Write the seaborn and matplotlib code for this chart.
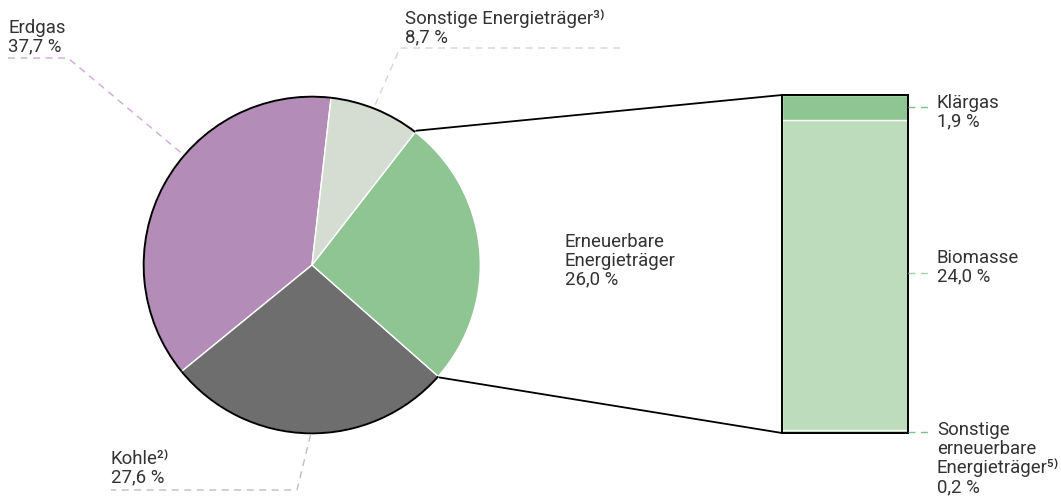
import numpy as np
import matplotlib
matplotlib.use('Agg')
import matplotlib.pyplot as plt
from matplotlib.patches import Arc
import seaborn as sns

# Anteile am Energieeinsatz (%)
pie_labels = ["Erdgas", "Kohle²⁾", "Erneuerbare\nEnergieträger", "Sonstige Energieträger³⁾"]
pie_values = [37.7, 27.6, 26.0, 8.7]
pie_colors = ["#b48cb8", "#6e6e6e", "#8fc493", "#d5ddd2"]

# Aufteilung der erneuerbaren Energieträger (von unten nach oben)
bar_labels = ["Sonstige\nerneuerbare\nEnergieträger⁵⁾", "Biomasse", "Klärgas"]
bar_values = [0.2, 24.0, 1.9]
bar_colors = ["#8fc493", "#bddcbc", "#8fc493"]

sns.set_theme(style="white")
plt.rcParams['font.family'] = ['Roboto', 'DejaVu Sans']
plt.rcParams['text.color'] = '#333333'

W, H = 1061, 496
fig = plt.figure(figsize=(W / 100, H / 100), dpi=100)

# Kreisdiagramm (Pixelbox 142..482 x 95..435)
cx, cy, r = 312, 265, 170
ax_pie = fig.add_axes([(cx - r) / W, (H - cy - r) / H, 2 * r / W, 2 * r / H])
start = 83.5
ax_pie.pie(pie_values, colors=pie_colors, startangle=start, counterclock=True,
           wedgeprops=dict(edgecolor='white', linewidth=1))
ax_pie.set_xlim(-1.01, 1.01)
ax_pie.set_ylim(-1.01, 1.01)
ax_pie.set_aspect('equal')
ax_pie.axis('off')

bounds = start + np.concatenate([[0], np.cumsum(pie_values)]) * 3.6
# schwarzer Rand außer am erneuerbaren Segment
for i in [0, 1, 3]:
    ax_pie.add_patch(Arc((0, 0), 2, 2, theta1=bounds[i], theta2=bounds[i + 1],
                         color='black', lw=1.4, zorder=5))

# gestapelter Balken (Pixelbox 782..908 x 95..433)
bx0, bx1, by0, by1 = 782, 908, 95, 433
ax_bar = fig.add_axes([bx0 / W, (H - by1) / H, (bx1 - bx0) / W, (by1 - by0) / H])
bottom = 0
for v, c in zip(bar_values, bar_colors):
    ax_bar.bar(0, v, bottom=bottom, width=1, color=c, edgecolor='white', linewidth=1)
    bottom += v
ax_bar.set_xlim(-0.5, 0.5)
ax_bar.set_ylim(0, sum(bar_values))
ax_bar.set_xticks([])
ax_bar.set_yticks([])
for s in ax_bar.spines.values():
    s.set_visible(True)
    s.set_color('black')
    s.set_linewidth(1.4)

# Overlay in Pixelkoordinaten für Linien und Texte
ov = fig.add_axes([0, 0, 1, 1], zorder=10)
ov.set_xlim(0, W)
ov.set_ylim(H, 0)
ov.axis('off')
ov.patch.set_alpha(0)


def pie_point(angle_deg, rr=r):
    a = np.deg2rad(angle_deg)
    return cx + rr * np.cos(a), cy - rr * np.sin(a)


# Verbindungslinien zum Balken
p_top = pie_point(bounds[3])
p_bot = pie_point(bounds[2])
ov.plot([p_top[0], bx0], [p_top[1], by0], color='black', lw=1.3)
ov.plot([p_bot[0], bx0], [p_bot[1], by1], color='black', lw=1.3)

dash = dict(lw=1.0, dashes=(5, 4))
# Erdgas
ex, ey = pie_point(139.4)
ov.plot([8, 68, ex], [58, 58, ey], color='#d2aad6', **dash)
# Sonstige
sx, sy = pie_point(68.5)
ov.plot([620, 400, sx], [48, 48, sy], color='#d3d9d0', **dash)
# Kohle
kx, ky = pie_point(269.5)
ov.plot([kx, 297, 111], [ky, 490, 490], color='#bdbdbd', **dash)
# rechte Seite
seg_tops = np.cumsum(bar_values)
scale = (by1 - by0) / sum(bar_values)
y_klar = by1 - (seg_tops[1] + bar_values[2] / 2) * scale
y_bio = by1 - (seg_tops[0] + bar_values[1] / 2) * scale
y_son = by1 - bar_values[0] / 2 * scale
ov.plot([bx1, 930], [y_klar, y_klar], color='#7fbf85', **dash)
ov.plot([bx1, 930], [y_bio - 2, y_bio - 2], color='#a3d2a3', **dash)
ov.plot([bx1, 930], [y_son, y_son], color='#7fbf85', **dash)

fs = 13.4
kw = dict(fontsize=fs, va='top', ha='left', linespacing=1.05)


def pct(v):
    return f"{v:.1f}".replace('.', ',') + " %"


ov.text(8, 19, f"{pie_labels[0]}\n{pct(pie_values[0])}", **kw)
ov.text(405, 9, f"{pie_labels[3]}\n{pct(pie_values[3])}", **kw)
ov.text(111, 450, f"{pie_labels[1]}\n{pct(pie_values[1])}", **kw)
ov.text(565, 233, f"{pie_labels[2]}\n{pct(pie_values[2])}", **kw)
ov.text(937, 94, f"{bar_labels[2]}\n{pct(bar_values[2])}", **kw)
ov.text(937, 249, f"{bar_labels[1]}\n{pct(bar_values[1])}", **kw)
ov.text(937, 421, f"{bar_labels[0]}\n{pct(bar_values[0])}", **kw)

fig.savefig('out.png', dpi=100)
